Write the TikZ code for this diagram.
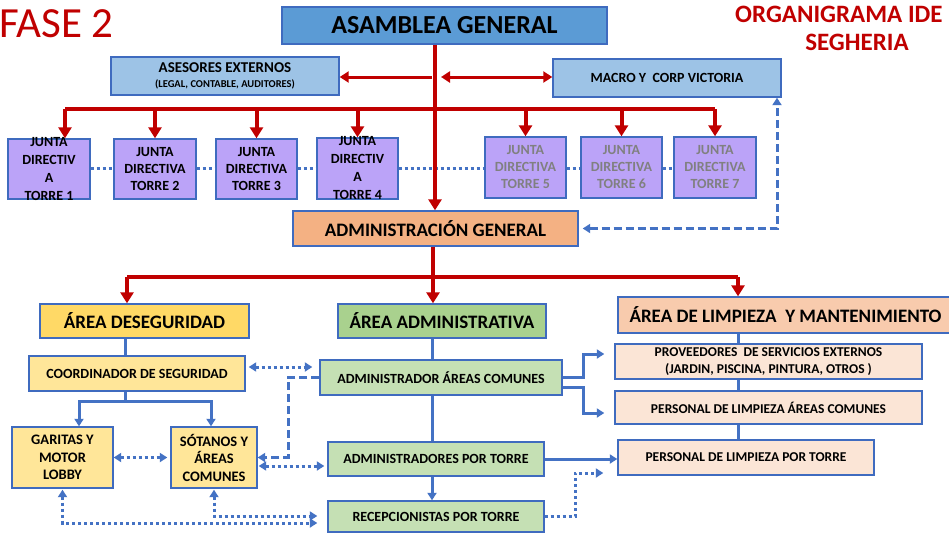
\documentclass[tikz,border=0pt]{standalone}
\usepackage{fontspec}
\setmainfont{Carlito}
\usetikzlibrary{arrows.meta,calc}
\definecolor{dred}{HTML}{C00000}
\definecolor{bord}{HTML}{3F6BBF}
\definecolor{bline}{HTML}{4472C4}
\definecolor{asamc}{HTML}{5B9BD5}
\definecolor{lblue}{HTML}{9DC3E6}
\definecolor{jfillc}{HTML}{BBA3F8}
\definecolor{admc}{HTML}{F4B183}
\definecolor{yelA}{HTML}{FFD966}
\definecolor{yelB}{HTML}{FFE699}
\definecolor{grnA}{HTML}{A9D18E}
\definecolor{grnB}{HTML}{C5E0B4}
\definecolor{orgA}{HTML}{F8CBAD}
\definecolor{orgB}{HTML}{FBE5D6}
\newcommand\mybox[7]{\node[box,#6,minimum width={#4-#2},minimum height={#5-#3}] (#1) at ({(#2+#4)/2},{(#3+#5)/2}) {#7};}
\tikzset{tipR/.tip={Triangle[width=11pt,length=9pt]},tipB/.tip={Triangle[width=9pt,length=7.5pt]}}
\begin{document}
\begin{tikzpicture}[x=1pt,y=-1pt,
  box/.style={draw=bord,line width=1.4pt,inner sep=0pt,align=center,font=\bfseries\fontsize{14}{17}\selectfont},
  fbig/.style={font=\bfseries\fontsize{26}{30}\selectfont},
  fmid/.style={font=\bfseries\fontsize{19}{22}\selectfont},
  fsml/.style={font=\bfseries\fontsize{13.5}{17}\selectfont},
  jtext/.style={inner sep=0pt,align=center,font=\bfseries\fontsize{14}{18}\selectfont},
  gray/.style={text=black!50},
  redln/.style={draw=dred,line width=4pt},
  redarr/.style={redln,-{Triangle[width=13pt,length=11pt]}},
  redthin/.style={draw=dred,line width=3pt},
  bln/.style={draw=bline,line width=3pt},
  barr/.style={bln,-{tipB}},
  dotl/.style={bln,dash pattern=on 3pt off 3pt},
  dashl/.style={bln,dash pattern=on 8pt off 4pt},
]
\useasboundingbox[fill=white] (0,0) rectangle (949,533);
% titles
\node[anchor=base west,inner sep=0pt,text=dred,font=\fontsize{43}{43}\selectfont] (fase) at (-1,37) {FASE 2};
\node[anchor=base west,inner sep=0pt,text=dred,font=\bfseries\fontsize{25}{25}\selectfont] (org1) at (735,22) {ORGANIGRAMA IDE};
\node[anchor=base,inner sep=0pt,text=dred,font=\bfseries\fontsize{25}{25}\selectfont] (org2) at (857,50) {SEGHERIA};
% boxes
\mybox{asam}{282}{7}{607}{44}{fill=asamc,fbig}{ASAMBLEA GENERAL}
\mybox{ases}{111}{57}{339}{95}{fill=lblue,font=\bfseries\fontsize{15}{14.5}\selectfont}{ASESORES EXTERNOS\\{\fontsize{10.5}{12}\selectfont (LEGAL, CONTABLE, AUDITORES)}}
\mybox{macro}{553}{59}{781}{97}{fill=lblue}{MACRO Y\ \ CORP VICTORIA}
\mybox{j1}{8}{139}{90}{199}{fill=jfillc}{}
\mybox{j2}{114}{139}{196}{199}{fill=jfillc}{JUNTA\\DIRECTIVA\\TORRE 2}
\mybox{j3}{216}{139}{297}{199}{fill=jfillc}{JUNTA\\DIRECTIVA\\TORRE 3}
\mybox{j4}{317}{138}{398}{199}{fill=jfillc}{}
\mybox{j5}{485}{137}{566}{198}{fill=jfillc,gray}{JUNTA\\DIRECTIVA\\TORRE 5}
\mybox{j6}{581}{137}{662}{198}{fill=jfillc,gray}{JUNTA\\DIRECTIVA\\TORRE 6}
\mybox{j7}{674}{137}{756}{198}{fill=jfillc,gray}{JUNTA\\DIRECTIVA\\TORRE 7}
\node[jtext] (j1t) at (j1) {JUNTA\\DIRECTIV\\A\\TORRE 1};
\node[jtext] (j4t) at (j4) {JUNTA\\DIRECTIV\\A\\TORRE 4};
\mybox{adm}{293}{211}{578}{246}{fill=admc,fmid}{ADMINISTRACIÓN GENERAL}
\mybox{aseg}{40}{304}{249}{338}{fill=yelA,fmid}{ÁREA DESEGURIDAD}
\mybox{aadm}{338}{304}{546}{338}{fill=grnA,fmid}{ÁREA ADMINISTRATIVA}
\mybox{alim}{618}{297}{953}{333}{fill=orgA,fmid}{ÁREA DE LIMPIEZA\ \ Y MANTENIMIENTO}
\mybox{coord}{29}{356}{245}{391}{fill=yelB}{COORDINADOR DE SEGURIDAD}
\mybox{gar}{12}{427}{113}{488}{fill=yelB,font=\bfseries\fontsize{14.5}{17.5}\selectfont}{GARITAS Y\\MOTOR\\LOBBY}
\mybox{sot}{171}{427}{257}{488}{fill=yelB,font=\bfseries\fontsize{14.5}{17.5}\selectfont}{SÓTANOS Y\\ÁREAS\\COMUNES}
\mybox{aac}{320}{360}{562}{395}{fill=grnB}{ADMINISTRADOR ÁREAS COMUNES}
\mybox{apt}{328}{442}{544}{476}{fill=grnB}{ADMINISTRADORES POR TORRE}
\mybox{rec}{328}{501}{544}{532}{fill=grnB}{RECEPCIONISTAS POR TORRE}
\mybox{prov}{615}{344}{922}{379}{fill=orgB,fsml}{PROVEEDORES\ \ DE SERVICIOS EXTERNOS\\(JARDIN, PISCINA, PINTURA, OTROS )}
\mybox{pac}{615}{391}{922}{424}{fill=orgB,fsml}{PERSONAL DE LIMPIEZA ÁREAS COMUNES}
\mybox{ppt}{618}{440}{874}{475}{fill=orgB,fsml}{PERSONAL DE LIMPIEZA POR TORRE}
% helper coordinates
\coordinate (rb1) at (0,109);
\coordinate (rb2) at (0,277);
\coordinate (rb3) at (0,401);
\coordinate (cv) at (435,0);
\coordinate (cv2) at (433,0);
\coordinate (cj1) at (65,0);
\coordinate (ca) at (432,0);
\coordinate (cm) at (441,0);
\coordinate (cd) at (777,0);
\coordinate (cseg) at (127,0);
\coordinate (clim) at (738,0);
\coordinate (cs) at (125,0);
\coordinate (gx) at (79,0);
\coordinate (sx) at (211,0);
\coordinate (cb) at (583,0);
\coordinate (cdd) at (288,0);
\coordinate (cr) at (575,0);
\coordinate (y77) at (0,77);
\coordinate (y168) at (0,168);
\coordinate (y367) at (0,367);
\coordinate (y466) at (0,466);
\coordinate (y516) at (0,516);
\coordinate (y523) at (0,523);
% dotted between juntas
\foreach \a/\b in {j1/j2,j2/j3,j3/j4,j4/j5,j5/j6,j6/j7}
  \draw[dotl] (\a.east |- y168) -- (\b.west |- y168);
% red connectors
\draw[redarr] (asam.south -| cv) -- (adm.north -| cv);
\draw[redln] (cj1 |- rb1) -- (j7.north |- rb1);
\draw[redarr] (cj1 |- rb1) -- (cj1 |- j1.north);
\foreach \j in {j2,j3,j4,j5,j6,j7}
  \draw[redarr] (\j.north |- rb1) -- (\j.north);
\draw[redthin,-{tipR}] (ca |- y77) -- (ases.east |- y77);
\draw[redthin,{tipR}-{tipR}] (cm |- y77) -- (macro.west |- y77);
\draw[redln] (adm.south -| cv2) -- (cv2 |- rb2);
\draw[redln] (cseg |- rb2) -- (clim |- rb2);
\draw[redarr] (cseg |- rb2) -- (cseg |- aseg.north);
\draw[redarr] (cv2 |- rb2) -- (cv2 |- aadm.north);
\draw[redarr] (clim |- rb2) -- (clim |- alim.north);
% dashed adm <-> macro
\draw[dashl,{tipB}-{tipB},shorten <=4pt] (adm.east) -- (cd |- adm.east) -- (cd |- macro.south);
% blue solid
\draw[bln] (cs |- aseg.south) -- (cs |- coord.north);
\draw[bln] (cs |- coord.south) -- (cs |- rb3);
\draw[barr] (cs |- rb3) -| (gx |- gar.north);
\draw[barr] (cs |- rb3) -| (sx |- sot.north);
\draw[bln] (ca |- aadm.south) -- (ca |- aac.north);
\draw[bln] (ca |- aac.south) -- (ca |- apt.north);
\draw[barr] (ca |- apt.south) -- (ca |- rec.north);
\draw[bln] (clim |- alim.south) -- (clim |- prov.north);
\draw[bln] (clim |- prov.south) -- (clim |- pac.north);
\draw[bln] (clim |- pac.south) -- (clim |- ppt.north);
\coordinate (p1) at ($(aac.east)+(0,10)$);
\draw[barr] (aac.east) -- (cb |- aac.east) |- ($(prov.west)+(-10,-7.5)$);
\draw[barr] (p1) -- (cb |- p1) |- ($(pac.west)+(-10,5.5)$);
\draw[barr] (apt.east) -- (apt.east -| ppt.west);
% dotted / dashed blue
\draw[dotl,{tipB}-{tipB},shorten <=3pt,shorten >=7pt] (coord.east |- y367) -- (aac.west |- y367);
\draw[dotl,{tipB}-{tipB},shorten >=3pt] (gar.east |- sot.east) -- (sot.west);
\draw[dashl,-{tipB}] (aac.west) -- (cdd |- aac.west) |- (sot.east);
\draw[dotl,{tipB}-{tipB},shorten <=1pt,shorten >=3pt] (sot.east |- y466) -- (apt.west |- y466);
\draw[dotl,{tipB}-{tipB},shorten <=1pt,shorten >=10pt] (gar.south) -- (gar.south |- y523) -- (rec.west |- y523);
\draw[dotl,{tipB}-{tipB},shorten <=1pt,shorten >=10pt] (sot.south) -- (sot.south |- y516) -- (rec.west |- y516);
\draw[dotl,-{tipB}] (rec.east) -- (cr |- rec.east) |- ($(ppt.west)+(-14,15.5)$);
\end{tikzpicture}
\end{document}
